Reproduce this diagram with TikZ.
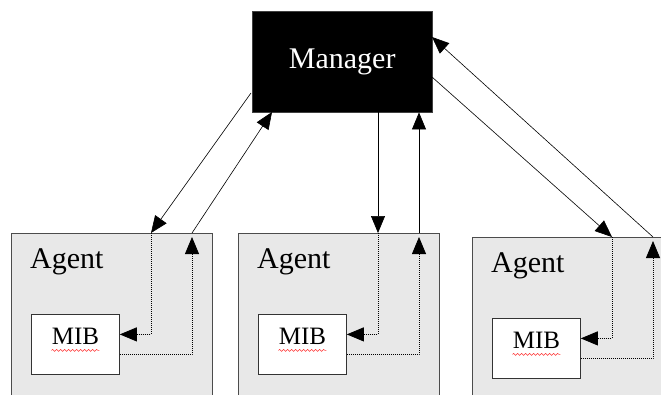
\documentclass[tikz,border=0pt]{standalone}
\usepackage{fontspec}
\setmainfont{Liberation Serif}
\usetikzlibrary{arrows.meta,decorations.pathmorphing}

\begin{document}
\begin{tikzpicture}[x=1pt,y=-1pt,>={Triangle[length=17pt,width=14pt]}]
    \tikzstyle{manager}=[rectangle,fill=black,draw=black!75,text=white,minimum width=180pt,minimum height=101pt,inner sep=0pt,anchor=north west,font=\fontsize{30}{36}\selectfont]
    \tikzstyle{agent}=[rectangle,fill=black!9,draw=black!70,line width=0.8pt,minimum height=175pt,inner sep=0pt,anchor=north west]
    \tikzstyle{agenttext}=[inner sep=0pt,anchor=base west,font=\fontsize{30}{36}\selectfont]
    \tikzstyle{mib}=[rectangle,fill=white,draw=black!80,line width=0.8pt,minimum width=88pt,minimum height=60pt,inner sep=0pt,text height=17pt,text depth=16pt,anchor=north west,font=\fontsize{25}{30}\selectfont]
    \tikzstyle{msg}=[line width=0.6pt,black]
    \tikzstyle{dots}=[line width=0.8pt,black,dash pattern=on 1pt off 1pt]
    \tikzstyle{squiggle}=[red!80,line width=0.5pt,decorate,decoration={snake,segment length=4pt,amplitude=1pt}]

    \useasboundingbox (0,0) rectangle (661,394);
    \clip (0,0) rectangle (661,394);

    \node[manager] (mgr) at (252,11) {Manager};

    \foreach \n/\x/\y/\w in {A/11/233/201, B/238/233/201, C/472/237/220} {
        \node[agent,minimum width=\w pt] (agent-\n) at (\x,\y) {};
        \node[agenttext] (lab-\n) at ([xshift=19pt,yshift=-35pt]agent-\n.north west) {Agent};
        \node[mib] (mib-\n) at ([xshift=20pt,yshift=-81pt]agent-\n.north west) {MIB};
        \draw[squiggle] ([xshift=-24pt,yshift=-6pt]mib-\n.center) -- ([xshift=24pt,yshift=-6pt]mib-\n.center);

        \coordinate (in-\n) at ([xshift=140pt]agent-\n.north west);
        \coordinate (out-\n) at ([xshift=181pt]agent-\n.north west);

        \draw[dots,->] (in-\n) |- ([yshift=10pt]mib-\n.east);
        \draw[dots,->,shorten >=4pt] ([yshift=-10pt]mib-\n.east) -| (out-\n);
    }

    % where the lines meet the manager
    \coordinate (m-A1) at (251,93);
    \coordinate (m-A2) at (272,112);
    \coordinate (m-C1) at (432,77);
    \coordinate (m-C2) at (432,37);

    \draw[msg,->] (m-A1) -- (in-A);
    \draw[msg,->] (out-A) -- (m-A2);
    \draw[msg,->] (in-B |- mgr.south) -- (in-B);
    \draw[msg,->] (out-B) -- (out-B |- mgr.south);
    \draw[msg,->] (m-C1) -- (in-C);
    \draw[msg,->] (out-C) -- (m-C2);
\end{tikzpicture}
\end{document}
